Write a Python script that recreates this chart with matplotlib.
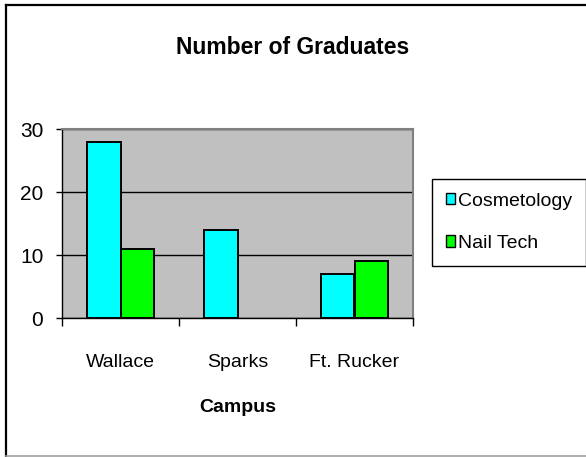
import matplotlib
matplotlib.use("Agg")
import matplotlib.pyplot as plt
from matplotlib.lines import Line2D
import numpy as np

campuses = ["Wallace", "Sparks", "Ft. Rucker"]
cosmetology = [28, 14, 7]
nail_tech = [11, 0, 9]

plt.rcParams["font.family"] = ["Liberation Sans", "DejaVu Sans"]

W, H = 586, 457
fig = plt.figure(figsize=(W / 100, H / 100), dpi=100)
fig.patch.set_facecolor("white")

# plot area in pixel terms
left, right, top, bottom = 62, 413, 129, 318
ax = fig.add_axes([left / W, 1 - bottom / H, (right - left) / W, (bottom - top) / H])
ax.set_facecolor("#c0c0c0")

x = np.arange(len(campuses))
bw = 0.285
# empty cells get no bar at all
cos_h = np.where(np.array(cosmetology) == 0, np.nan, cosmetology)
nail_h = np.where(np.array(nail_tech) == 0, np.nan, nail_tech)
ax.bar(x - bw / 2, cos_h, bw, color="#00ffff", edgecolor="black", linewidth=1.4, zorder=3,
       label="Cosmetology")
ax.bar(x + bw / 2, nail_h, bw, color="#00ff00", edgecolor="black", linewidth=1.4, zorder=3,
       label="Nail Tech")

ax.set_xlim(-0.5, 2.5)
ax.set_ylim(0, 30)
ax.set_yticks([0, 10, 20, 30])
ax.yaxis.grid(True, color="black", linewidth=1.0, zorder=1)
ax.set_axisbelow(True)

# boundary ticks between categories, labels centred under each group
ax.set_xticks([-0.5, 0.5, 1.5, 2.5])
ax.set_xticklabels([])
ax.set_xticks(x, minor=True)
ax.set_xticklabels(campuses, minor=True, fontsize=14)
ax.tick_params(axis="x", which="major", direction="out", length=6, width=1, color="black")
ax.tick_params(axis="x", which="minor", length=0, pad=26)
ax.tick_params(axis="y", direction="out", length=4.5, width=1, pad=9, labelsize=15)

for s in ["top", "right"]:
    ax.spines[s].set_color("#808080")
    ax.spines[s].set_linewidth(1.5)
for s in ["left", "bottom"]:
    ax.spines[s].set_color("black")
    ax.spines[s].set_linewidth(1.0)

fig.text(0.5, 1 - 47 / H, "Number of Graduates", ha="center", va="center",
         fontsize=16.5, fontweight="bold")
fig.text((left + right) / 2 / W, 1 - 408 / H, "Campus", ha="center", va="center",
         fontsize=14, fontweight="bold")

leg = fig.legend(loc="upper left", bbox_to_anchor=(432 / W, 1 - 179 / H), borderaxespad=0,
                 frameon=True, fancybox=False, edgecolor="black", framealpha=1,
                 fontsize=14, handlelength=0.5, handleheight=0.5, handletextpad=0.15,
                 labelspacing=1.3, borderpad=0.7)
leg.get_frame().set_linewidth(1.0)
for h in leg.legend_handles:
    h.set_linewidth(1.0)

# chart border
fig.add_artist(Line2D([6 / W, 6 / W], [1 - 5 / H, 1 - 456 / H], transform=fig.transFigure,
                      color="black", linewidth=1.6))
fig.add_artist(Line2D([6 / W, 1.0], [1 - 5 / H, 1 - 5 / H], transform=fig.transFigure,
                      color="black", linewidth=1.6))
fig.add_artist(Line2D([6 / W, 1.0], [1 - 456 / H, 1 - 456 / H], transform=fig.transFigure,
                      color="#a0a0a0", linewidth=1.2))

fig.savefig("out.png", dpi=100)
